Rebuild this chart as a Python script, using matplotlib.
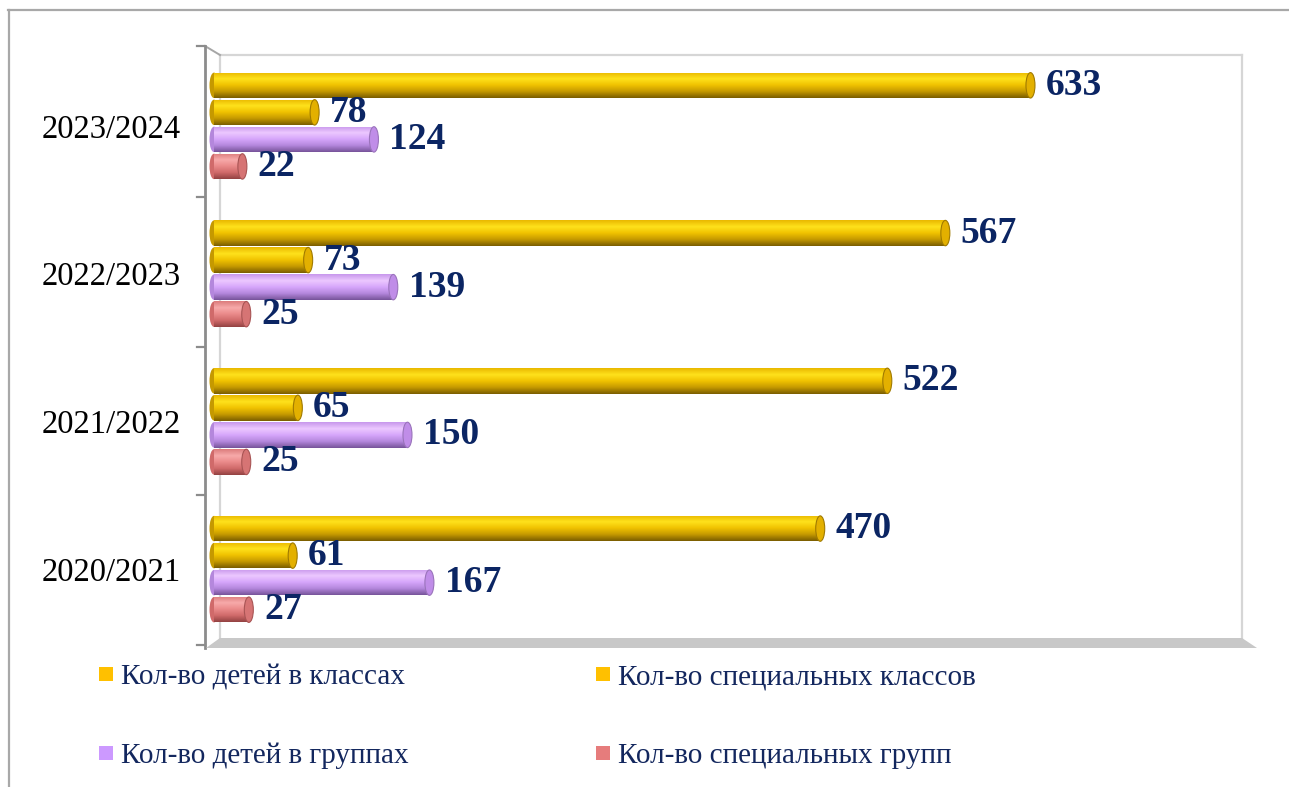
import numpy as np
import matplotlib
matplotlib.use("Agg")
import matplotlib.pyplot as plt
from matplotlib.colors import LinearSegmentedColormap
from matplotlib.patches import Ellipse, Rectangle, Polygon
from matplotlib.lines import Line2D

plt.rcParams['font.family'] = ['Liberation Serif', 'DejaVu Serif']

years = ['2020/2021', '2021/2022', '2022/2023', '2023/2024']
children_classes = [470, 522, 567, 633]
special_classes = [61, 65, 73, 78]
children_groups = [167, 150, 139, 124]
special_groups = [27, 25, 25, 22]
series_names = ['Кол-во детей в классах', 'Кол-во специальных классов',
                'Кол-во детей в группах', 'Кол-во специальных групп']

W, H = 1289, 787
fig = plt.figure(figsize=(W / 100, H / 100), dpi=100)


def fx(x):
    return x / W


def fy(y):
    return 1 - y / H


# axes placed in pixel coordinates of the reference
left, right, top, bottom = 214, 1242, 52, 643
ax = fig.add_axes([fx(left), fy(bottom), (right - left) / W, (bottom - top) / H])
ax.patch.set_visible(False)

# colour ramps bottom -> top to fake the cylinder look
gold = ['#7a5d00', '#c59900', '#f0c200', '#ffe21c', '#e9b800']
purple = ['#77549a', '#b487dc', '#d6a6fb', '#ecc8ff', '#c898ec']
red = ['#934242', '#d06a6a', '#ea8a8a', '#f7aaaa', '#dc7c7c']
cap_colors = {'gold': ('#e3b000', '#a07a00'),
              'purple': ('#c08de8', '#9a74bb'),
              'red': ('#d67474', '#a85454')}

series = [(children_classes, gold, 'gold', 0.2745),
          (special_classes, gold, 'gold', 0.0915),
          (children_groups, purple, 'purple', -0.0915),
          (special_groups, red, 'red', -0.2745)]

h = 0.172
px_per_x = 1.29
cap_w = 9 / px_per_x
grad = np.linspace(0, 1, 64).reshape(-1, 1)
y_pos = np.arange(len(years))

for vals, ramp, cname, off in series:
    cmap = LinearSegmentedColormap.from_list(cname, ramp)
    face, edge = cap_colors[cname]
    bars = ax.barh(y_pos + off, vals, height=h, color=ramp[2], linewidth=0, zorder=3)
    for bar, v in zip(bars, vals):
        y0 = bar.get_y()
        # rounded left end
        ax.add_patch(Ellipse((0, y0 + h / 2), cap_w, h, facecolor=ramp[1],
                             edgecolor='none', clip_on=False, zorder=2))
        im = ax.imshow(grad, extent=(0, v, y0, y0 + h), origin='lower',
                       aspect='auto', cmap=cmap, zorder=3, interpolation='bilinear')
        im.set_clip_path(bar)
        ax.add_patch(Ellipse((v, y0 + h / 2), cap_w, h, facecolor=face,
                             edgecolor=edge, linewidth=0.8, zorder=4))
        ax.annotate(str(v), (v, y0 + h / 2), xytext=(11, 0), textcoords='offset points',
                    ha='left', va='center', fontsize=27, fontweight='bold',
                    color='#0b2563', zorder=5)

ax.set_xlim(0, 797)
ax.set_ylim(-0.5, 3.5)
for s in ax.spines.values():
    s.set_visible(False)
ax.set_xticks([])
ax.set_yticks(y_pos)
ax.set_yticklabels(years, fontsize=23.5, color='black')
ax.tick_params(axis='y', length=0, pad=24)

# 3d frame: back wall, floor, left wall with ticks
gray = '#d6d6d6'
frame = [
    ((220, 55), (1242, 55), gray, 1.6),
    ((220, 55), (220, 638), gray, 1.6),
    ((1242, 55), (1242, 638), gray, 1.6),
    ((205, 46), (220, 55), '#a6a6a6', 1.4),
    ((205, 46), (205, 648), '#8c8c8c', 2.0),
    ((8, 10), (W, 10), '#a8a8a8', 1.6),
    ((9, 10), (9, H), '#a8a8a8', 1.6),
]
for (x0, y0), (x1, y1), c, lw in frame:
    fig.add_artist(Line2D([fx(x0), fx(x1)], [fy(y0), fy(y1)], color=c, lw=lw, zorder=-1))
for ty in [46, 197, 347, 495, 645]:
    fig.add_artist(Line2D([fx(197), fx(205)], [fy(ty), fy(ty)], color='#8c8c8c', lw=1.6, zorder=-1))
fig.add_artist(Polygon([(fx(206), fy(648)), (fx(220), fy(638)), (fx(1242), fy(638)),
                        (fx(1257), fy(648))], closed=True, facecolor='#c8c8c8',
                       edgecolor='none', zorder=-1))

# legend drawn by hand to keep the two-row layout
legend_colors = ['#ffc000', '#ffc000', '#cc99ff', '#e67c7c']
legend_pos = [(99, 674), (596, 674), (99, 753), (596, 753)]
for name, c, (lx, ly) in zip(series_names, legend_colors, legend_pos):
    fig.add_artist(Rectangle((fx(lx), fy(ly + 7)), 14 / W, 14 / H, facecolor=c,
                             edgecolor='none'))
    fig.text(fx(lx + 22), fy(ly + 3), name, fontsize=21, color='#13275e',
             ha='left', va='center')

fig.savefig('out.png', dpi=100)
